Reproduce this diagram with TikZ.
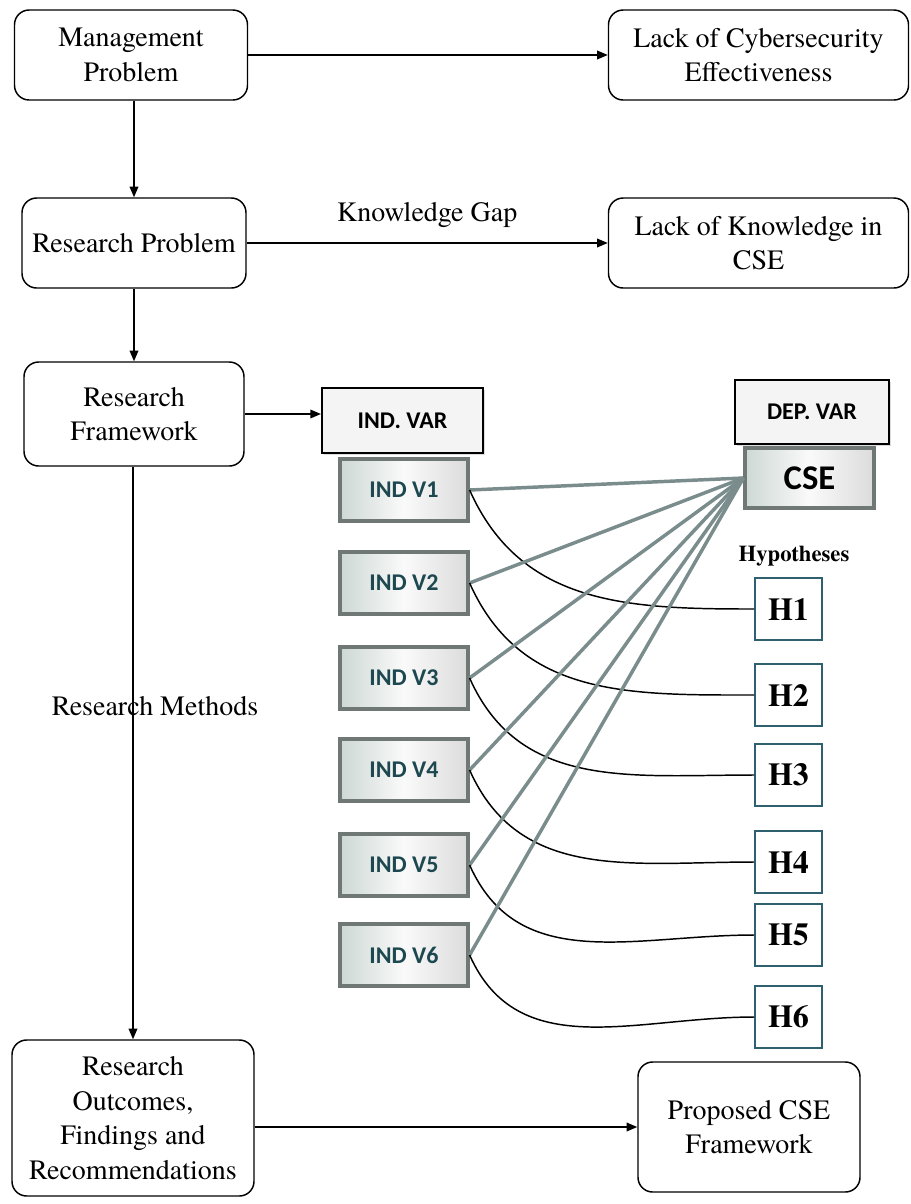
\documentclass[tikz,border=0pt]{standalone}
\usepackage{fontspec}
\setmainfont{texgyretermes}[Extension=.otf, UprightFont=*-regular, BoldFont=*-bold]
\newfontfamily\varfont{Carlito}
\usetikzlibrary{arrows.meta,shadows}

\definecolor{spokegray}{RGB}{122,140,140}
\definecolor{hypteal}{RGB}{46,96,112}
\definecolor{varteal}{RGB}{30,72,80}
\definecolor{boxedge}{RGB}{112,120,118}
\definecolor{boxside}{RGB}{205,216,212}
\definecolor{headfill}{RGB}{244,244,244}

\begin{document}
\begin{tikzpicture}[x=0.75pt,y=-0.75pt,
  stage/.style={draw, line width=1.1pt, rounded corners=11pt, align=center,
    inner sep=0pt, font=\fontsize{21}{26}\selectfont},
  link/.style={-{Triangle[length=8pt,width=6.5pt]}, line width=1.1pt},
  varhead/.style={draw, fill=headfill, line width=1.6pt, inner sep=0pt,
    font=\varfont\bfseries\fontsize{18}{21}\selectfont,
    drop shadow={shadow xshift=1.5pt, shadow yshift=-1.5pt, fill=gray!55}},
  varbox/.style={draw=boxedge, line width=2.4pt, inner sep=0pt,
    left color=boxside, right color=gray!28, middle color=white!96!gray,
    text=varteal, font=\varfont\bfseries\fontsize{18}{21}\selectfont,
    minimum width=128*0.75pt, minimum height=62*0.75pt},
  hyp/.style={draw=hypteal, line width=1.4pt, inner sep=0pt,
    font=\bfseries\fontsize{24}{28}\selectfont,
    minimum width=67*0.75pt, minimum height=62*0.75pt},
  spoke/.style={draw=spokegray, line width=2.6pt},
  tie/.style={line width=1.1pt}]
\useasboundingbox (0,0) rectangle (911,1204);

% left-hand chain of research stages
\node[stage, minimum width=233*0.75pt, minimum height=90*0.75pt] (mgmt) at (131,55) {Management\\Problem};
\node[stage, minimum width=300*0.75pt, minimum height=90*0.75pt] (lackcs) at (758.5,55) {Lack of Cybersecurity\\Effectiveness};
\node[stage, minimum width=224*0.75pt, minimum height=90*0.75pt] (rp) at (134,243) {Research Problem};
\node[stage, minimum width=300*0.75pt, minimum height=90*0.75pt] (lackk) at (758.5,243) {Lack of Knowledge in\\CSE};
\node[stage, minimum width=220*0.75pt, minimum height=104*0.75pt] (rf) at (134,414) {Research\\Framework};
\node[stage, minimum width=242*0.75pt, minimum height=156*0.75pt] (outc) at (133,1118) {Research\\Outcomes,\\Findings and\\Recommendations};
\node[stage, minimum width=222*0.75pt, minimum height=130*0.75pt] (prop) at (749,1127) {Proposed CSE\\Framework};

\draw[link] (mgmt.east) -- (lackcs.west);
\draw[link] (mgmt.south -| rp.north) -- (rp.north);
\draw[link] (rp.east) -- node[above=8pt, font=\fontsize{21}{26}\selectfont] (gap) {Knowledge Gap} (lackk.west);
\draw[link] (rp.south) -- (rf.north);
\draw[link] (rf.south -| outc.north) -- (outc.north);
\node[font=\fontsize{21}{26}\selectfont] (methods) at (155,706) {Research Methods};
\draw[link] (outc.east |- prop.west) -- (prop.west);

% variable headers
\node[varhead, minimum width=161*0.75pt, minimum height=65*0.75pt] (indvar) at (402.5,420.5) {IND. VAR};
\node[varhead, minimum width=154*0.75pt, minimum height=64*0.75pt] (depvar) at (812,412) {DEP. VAR};
\draw[link] (rf.east) -- (rf.east -| indvar.west);

% independent variables and the dependent one
\node[varbox] (v1) at (404,490) {IND V1};
\node[varbox] (v2) at (404,583) {IND V2};
\node[varbox] (v3) at (404,678) {IND V3};
\node[varbox] (v4) at (404,770) {IND V4};
\node[varbox] (v5) at (404,865) {IND V5};
\node[varbox] (v6) at (404,955) {IND V6};
\node[varbox, minimum width=129*0.75pt, minimum height=60*0.75pt,
  text=black, font=\varfont\bfseries\fontsize{26}{30}\selectfont] (cse) at (809.5,478) {CSE};

% hypotheses
\node[font=\bfseries\fontsize{17}{20}\selectfont] (hyps) at (794,556) {Hypotheses};
\node[hyp] (h1) at (788.5,609) {H1};
\node[hyp] (h2) at (788.5,695) {H2};
\node[hyp] (h3) at (788.5,775) {H3};
\node[hyp] (h4) at (788.5,862) {H4};
\node[hyp] (h5) at (788.5,935) {H5};
\node[hyp] (h6) at (788.5,1017) {H6};

% each variable feeds CSE and is tied to its hypothesis
\foreach \i in {1,...,6} {
  \draw[spoke] (v\i.east) -- (cse.west);
  \draw[tie] (v\i.east) to[out=-66, in=180, looseness=1.05] (h\i.west);
}
\end{tikzpicture}
\end{document}
